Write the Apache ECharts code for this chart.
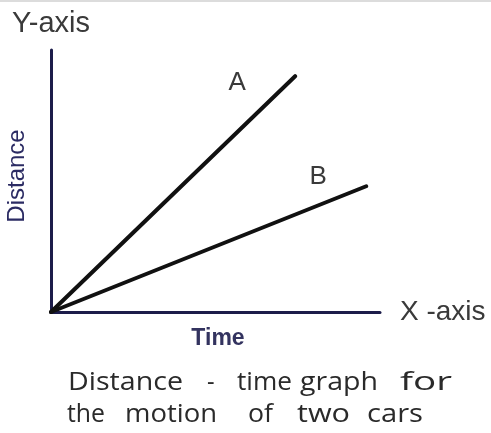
<!DOCTYPE html>
<html>
<head>
<meta charset="utf-8">
<style>
  html, body { margin: 0; padding: 0; background: #ffffff; }
  #chart { width: 491px; height: 433px; }
</style>
<script src="https://cdn.jsdelivr.net/npm/echarts@6/dist/echarts.min.js"></script>
</head>
<body>
<div id="chart"></div>
<script>
// Two cars starting together at the origin: car A covers distance faster than car B.
const timeA = [0, 7.42];
const distA = [0, 9.0];
const timeB = [0, 9.58];
const distB = [0, 4.8];
const lineNames = ['A', 'B'];

// Caption words on two lines.
const captionLine1 = ['Distance', '-', 'time', 'graph', 'for'];
const captionLine2 = ['the', 'motion', 'of', 'two', 'cars'];

// Caption layout: left and right edge of each word, in pixels.
const captionSpan1 = [[68, 183], [207, 213], [237, 292], [300, 378], [400, 452]];
const captionSpan2 = [[67, 105], [125, 217], [248, 273], [297, 350], [367, 423]];

const axisColor = '#1c1c4a';
const inkColor = '#111111';
const captionFont = '26px "Open Sans", "Noto Sans", sans-serif';

function toPairs(xs, ys) {
  return xs.map((x, i) => [x, ys[i]]);
}

function lineSeries(name, xs, ys, offset) {
  const pts = toPairs(xs, ys);
  return {
    name: name,
    type: 'line',
    symbol: 'none',
    lineStyle: { color: inkColor, width: 4, cap: 'round' },
    data: pts,
    markPoint: {
      symbol: 'circle',
      symbolSize: 0,
      silent: true,
      label: {
        show: true,
        position: 'inside',
        offset: offset,
        formatter: name,
        fontFamily: 'Liberation Sans, Arial, sans-serif',
        fontSize: 26,
        color: '#3a3a3a'
      },
      data: [{ coord: pts[pts.length - 1] }]
    }
  };
}

const measureCtx = document.createElement('canvas').getContext('2d');
measureCtx.font = captionFont;

// Each word is stretched a little so the loosely spaced caption keeps its width.
function captionText(words, spans, y) {
  return words.map((w, i) => {
    const natural = measureCtx.measureText(w).width || 1;
    const target = spans[i][1] - spans[i][0];
    const sx = Math.max(0.9, Math.min(1.5, target / natural));
    return {
      type: 'text',
      x: spans[i][0],
      y: y,
      scaleX: sx,
      style: {
        text: w,
        font: captionFont,
        fill: '#2a2a2a',
        align: 'left',
        verticalAlign: 'middle'
      }
    };
  });
}

const chart = echarts.init(document.getElementById('chart'), null, { renderer: 'canvas' });

chart.setOption({
  animation: false,
  backgroundColor: '#ffffff',
  grid: { left: 51, right: 111, top: 50, bottom: 121, containLabel: false },
  xAxis: {
    type: 'value',
    min: 0,
    max: 10,
    name: 'X -axis',
    nameLocation: 'end',
    nameGap: 20,
    nameTextStyle: {
      fontFamily: 'Liberation Sans, Arial, sans-serif',
      fontSize: 28,
      color: '#3a3a3a',
      padding: [14, 0, 0, 0]
    },
    axisLine: { show: true, lineStyle: { color: axisColor, width: 3 } },
    axisTick: { show: false },
    axisLabel: { show: false },
    splitLine: { show: false }
  },
  yAxis: {
    type: 'value',
    min: 0,
    max: 10,
    name: 'Y-axis',
    nameLocation: 'end',
    nameGap: 12,
    nameTextStyle: {
      fontFamily: 'Liberation Sans, Arial, sans-serif',
      fontSize: 29,
      color: '#3a3a3a'
    },
    axisLine: { show: true, lineStyle: { color: axisColor, width: 3 } },
    axisTick: { show: false },
    axisLabel: { show: false },
    splitLine: { show: false }
  },
  series: [
    lineSeries(lineNames[0], timeA, distA, [-58, 7]),
    lineSeries(lineNames[1], timeB, distB, [-48, -9])
  ],
  graphic: [
    {
      type: 'rect',
      left: 0, top: 0,
      shape: { width: 491, height: 2 },
      style: { fill: '#dcdcdc' },
      silent: true
    },
    {
      type: 'text',
      x: 17, y: 176,
      rotation: Math.PI / 2,
      style: {
        text: 'Distance',
        fontFamily: 'Liberation Sans, Arial, sans-serif',
        fontSize: 24,
        fill: '#2b2b63',
        align: 'center',
        verticalAlign: 'middle'
      }
    },
    {
      type: 'text',
      x: 218, y: 339,
      style: {
        text: 'Time',
        fontFamily: 'Liberation Sans, Arial, sans-serif',
        fontSize: 23,
        fontWeight: 'bold',
        fill: '#33335f',
        align: 'center',
        verticalAlign: 'middle'
      }
    }
  ].concat(captionText(captionLine1, captionSpan1, 383))
   .concat(captionText(captionLine2, captionSpan2, 415))
});
</script>
</body>
</html>
